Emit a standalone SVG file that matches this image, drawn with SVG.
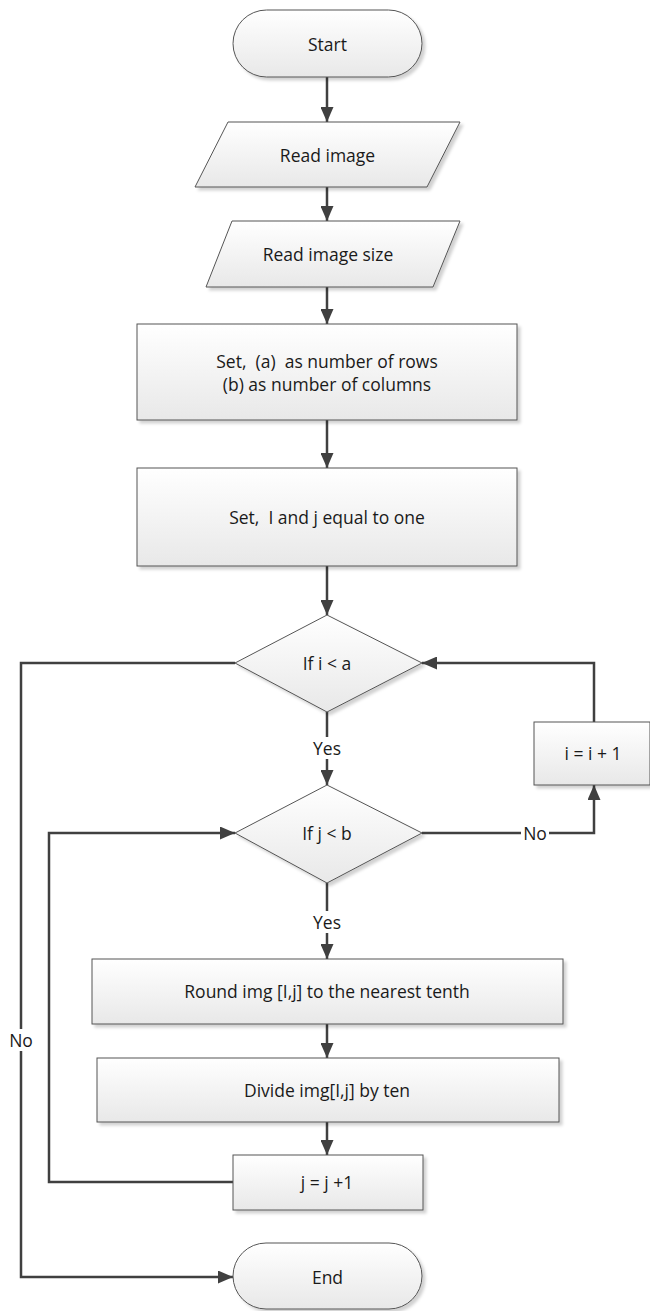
<svg xmlns="http://www.w3.org/2000/svg" width="650" height="1311" viewBox="0 0 650 1311">
  <defs>
    <linearGradient id="fillGrad" x1="0" y1="0" x2="0" y2="1">
      <stop offset="0" stop-color="#ffffff"/>
      <stop offset="1" stop-color="#e8e8e8"/>
    </linearGradient>
    <filter id="shadow" x="-10%" y="-10%" width="130%" height="140%">
      <feDropShadow dx="3" dy="3" stdDeviation="1.5" flood-color="#000000" flood-opacity="0.18"/>
    </filter>
    <marker id="arrow" viewBox="0 0 15 13" refX="15" refY="6.5" markerWidth="15" markerHeight="13" markerUnits="userSpaceOnUse" orient="auto">
      <path d="M0,0 L15,6.5 L0,13 Z" fill="#404040"/>
    </marker>
  </defs>
  <style>
    .shape { fill: url(#fillGrad); stroke: #555555; stroke-width: 1; filter: url(#shadow); }
    .label { font-family: "Open Sans", "Liberation Sans", Arial, sans-serif; font-size: 17.5px; fill: #1a1a1a; text-anchor: middle; dominant-baseline: central; white-space: pre; }
    .conn { fill: none; stroke: #404040; stroke-width: 2.5; }
    .tag { font-family: "Open Sans", "Liberation Sans", Arial, sans-serif; font-size: 17.5px; fill: #1a1a1a; text-anchor: middle; dominant-baseline: central; }
    .tagbg { fill: #ffffff; }
  </style>
  <rect width="650" height="1311" fill="#ffffff"/>

  <!-- connectors -->
  <g id="connectors">
    <path class="conn" d="M327,77 V122" marker-end="url(#arrow)"/>
    <path class="conn" d="M327,187 V221" marker-end="url(#arrow)"/>
    <path class="conn" d="M327,287 V324" marker-end="url(#arrow)"/>
    <path class="conn" d="M327,420 V468" marker-end="url(#arrow)"/>
    <path class="conn" d="M327,566 V615" marker-end="url(#arrow)"/>
    <path class="conn" d="M327,712 V785" marker-end="url(#arrow)"/>
    <path class="conn" d="M327,883 V959" marker-end="url(#arrow)"/>
    <path class="conn" d="M327,1024 V1058" marker-end="url(#arrow)"/>
    <path class="conn" d="M327,1122 V1155" marker-end="url(#arrow)"/>
    <!-- inner loop back to j test -->
    <path class="conn" d="M233,1182 H49 V833 H235" marker-end="url(#arrow)"/>
    <!-- outer exit to End -->
    <path class="conn" d="M235,663 H21 V1277 H233" marker-end="url(#arrow)"/>
    <!-- j test false branch to increment i -->
    <path class="conn" d="M422,833 H594 V785" marker-end="url(#arrow)"/>
    <!-- increment i back to i test -->
    <path class="conn" d="M594,722 V663 H422" marker-end="url(#arrow)"/>

    <rect class="tagbg" x="310" y="737" width="34" height="22"/>
    <text class="tag" x="327" y="748">Yes</text>
    <rect class="tagbg" x="310" y="911" width="34" height="22"/>
    <text class="tag" x="327" y="922">Yes</text>
    <rect class="tagbg" x="521" y="822" width="28" height="22"/>
    <text class="tag" x="535" y="833">No</text>
    <rect class="tagbg" x="7" y="1029" width="28" height="22"/>
    <text class="tag" x="21" y="1040">No</text>
  </g>

  <g id="start">
    <rect class="shape" x="233" y="10" width="189" height="67" rx="33.5" ry="33.5"/>
    <text class="label" x="327.5" y="44">Start</text>
  </g>

  <g id="read-image">
    <polygon class="shape" points="228,122 460,122 427,187 195,187"/>
    <text class="label" x="327.5" y="155">Read image</text>
  </g>

  <g id="read-size">
    <polygon class="shape" points="232,221 460,221 433,287 206,287"/>
    <text class="label" x="328" y="254">Read image size</text>
  </g>

  <g id="set-ab">
    <rect class="shape" x="137" y="324" width="380" height="96"/>
    <text class="label" x="327" y="361">Set,  (a)  as number of rows</text>
    <text class="label" x="327" y="384">(b) as number of columns</text>
  </g>

  <g id="set-ij">
    <rect class="shape" x="137" y="468" width="380" height="98"/>
    <text class="label" x="327" y="517">Set,  I and j equal to one</text>
  </g>

  <g id="test-i">
    <polygon class="shape" points="327,615 422,663 327,712 235,663"/>
    <text class="label" x="327" y="663">If i &lt; a</text>
  </g>

  <g id="inc-i">
    <rect class="shape" x="534" y="722" width="116" height="63"/>
    <text class="label" x="593" y="753">i = i + 1</text>
  </g>

  <g id="test-j">
    <polygon class="shape" points="327,785 422,833 327,883 235,833"/>
    <text class="label" x="327" y="833">If j &lt; b</text>
  </g>

  <g id="round">
    <rect class="shape" x="92" y="959" width="471" height="65"/>
    <text class="label" x="327" y="991">Round img [I,j] to the nearest tenth</text>
  </g>

  <g id="divide">
    <rect class="shape" x="97" y="1058" width="462" height="64"/>
    <text class="label" x="327" y="1090">Divide img[I,j] by ten</text>
  </g>

  <g id="inc-j">
    <rect class="shape" x="233" y="1155" width="190" height="55"/>
    <text class="label" x="327" y="1182">j = j +1</text>
  </g>

  <g id="end">
    <rect class="shape" x="233" y="1243" width="189" height="66" rx="33" ry="33"/>
    <text class="label" x="327.5" y="1277">End</text>
  </g>
</svg>
